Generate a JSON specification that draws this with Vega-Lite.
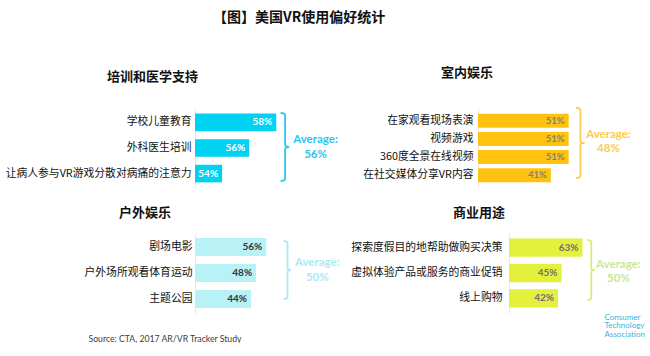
{
  "$schema": "https://vega.github.io/schema/vega-lite/v6.json",
  "padding": {"left": 5, "top": 11, "right": 0, "bottom": 0},
  "background": "white",
  "title": {"text": "【图】美国VR使用偏好统计", "font": "Noto Sans CJK SC", "fontSize": 14, "fontWeight": "bold", "color": "#111111", "anchor": "start", "dx": 18, "offset": 42},
  "config": {
    "view": {"stroke": null},
    "title": {"font": "Noto Sans CJK SC", "fontSize": 13, "fontWeight": "bold", "color": "#111111", "anchor": "start", "frame": "group"},
    "axisY": {"title": null, "ticks": false, "domain": true, "domainColor": "#e8e8e8", "grid": false, "labelFont": "Noto Sans CJK SC", "labelFontSize": 10.8, "labelColor": "#111111", "labelLimit": 0}
  },
  "datasets": {
    "tl": [
      {"item": "学校儿童教育", "pct": 0.58},
      {"item": "外科医生培训", "pct": 0.56, "avg": "Average:\n56%"},
      {"item": "让病人参与VR游戏分散对病痛的注意力", "pct": 0.54}
    ],
    "tr": [
      {"item": "在家观看现场表演", "pct": 0.51},
      {"item": "视频游戏", "pct": 0.51, "avg": "Average:\n48%"},
      {"item": "360度全景在线视频", "pct": 0.51},
      {"item": "在社交媒体分享VR内容", "pct": 0.41}
    ],
    "bl": [
      {"item": "剧场电影", "pct": 0.56},
      {"item": "户外场所观看体育运动", "pct": 0.48, "avg": "Average:\n50%"},
      {"item": "主题公园", "pct": 0.44}
    ],
    "br": [
      {"item": "探索度假目的地帮助做购买决策", "pct": 0.63},
      {"item": "虚拟体验产品或服务的商业促销", "pct": 0.45, "avg": "Average:\n50%"},
      {"item": "线上购物", "pct": 0.42}
    ]
  },
  "spacing": 19,
  "vconcat": [
    {
      "spacing": 18,
      "hconcat": [
        {
          "width": 149, "height": 80,
          "data": {"name": "tl"},
          "title": {"text": "培训和医学支持", "dx": -88, "offset": 24},
          "encoding": {
            "y": {"field": "item", "type": "nominal", "sort": null, "scale": {"paddingInner": 0.31, "paddingOuter": 0.22}, "axis": {"labelPadding": 4, "minExtent": 188, "maxExtent": 188}}
          },
          "layer": [
            {"mark": {"type": "bar", "color": "#00D2F2"},
             "encoding": {"x": {"field": "pct", "type": "quantitative", "scale": {"domain": [0.52, 0.623], "zero": false, "clamp": true}, "axis": null}}},
            {"mark": {"type": "text", "align": "right", "baseline": "middle", "dx": -4, "color": "#ffffff", "font": "Lato", "fontWeight": "bold", "fontSize": 10},
             "encoding": {"x": {"field": "pct", "type": "quantitative", "axis": null}, "text": {"field": "pct", "type": "quantitative", "format": ".0%"}}},
            {"transform": [{"filter": "isValid(datum.avg)"}],
             "mark": {"type": "point", "shape": "M-0.13,-1 Q0,-1 0,-0.93 L0,-0.07 Q0,0 0.12,0 Q0,0 0,0.07 L0,0.93 Q0,1 -0.13,1", "filled": false, "stroke": "#29C6EE", "strokeWidth": 1.8, "opacity": 1, "size": 4624, "yOffset": -1},
             "encoding": {"x": {"datum": 0.5865, "type": "quantitative", "axis": null}}},
            {"transform": [{"filter": "isValid(datum.avg)"}],
             "mark": {"type": "text", "align": "center", "baseline": "middle", "lineBreak": "\n", "lineHeight": 15, "color": "#29C6EE", "font": "Lato", "fontWeight": "bold", "fontSize": 11.5, "yOffset": -8.5},
             "encoding": {"x": {"datum": 0.609, "type": "quantitative", "axis": null}, "text": {"field": "avg"}}}
          ]
        },
        {
          "width": 160, "height": 80,
          "data": {"name": "tr"},
          "title": {"text": "室内娱乐", "dx": -37, "offset": 24},
          "encoding": {
            "y": {"field": "item", "type": "nominal", "sort": null, "scale": {"paddingInner": 0.23, "paddingOuter": 0.313}, "axis": {"labelPadding": 5, "minExtent": 115, "maxExtent": 115}}
          },
          "layer": [
            {"mark": {"type": "bar", "color": "#FFC210"},
             "encoding": {"x": {"field": "pct", "type": "quantitative", "scale": {"domain": [0, 0.87]}, "axis": null}}},
            {"mark": {"type": "text", "align": "right", "baseline": "middle", "dx": -4, "color": "#808080", "font": "Lato", "fontWeight": "bold", "fontSize": 9.5},
             "encoding": {"x": {"field": "pct", "type": "quantitative", "axis": null}, "text": {"field": "pct", "type": "quantitative", "format": ".0%"}}},
            {"transform": [{"filter": "isValid(datum.avg)"}],
             "mark": {"type": "point", "shape": "M-0.13,-1 Q0,-1 0,-0.93 L0,-0.07 Q0,0 0.12,0 Q0,0 0,0.07 L0,0.93 Q0,1 -0.13,1", "filled": false, "stroke": "#FDCB4E", "strokeWidth": 1.8, "opacity": 1, "size": 4900, "yOffset": 4},
             "encoding": {"x": {"datum": 0.576, "type": "quantitative", "axis": null}}},
            {"transform": [{"filter": "isValid(datum.avg)"}],
             "mark": {"type": "text", "align": "center", "baseline": "middle", "lineBreak": "\n", "lineHeight": 14, "color": "#FDCB4E", "font": "Lato", "fontWeight": "bold", "fontSize": 11.5, "yOffset": -4},
             "encoding": {"x": {"datum": 0.734, "type": "quantitative", "axis": null}, "text": {"field": "avg"}}}
          ]
        }
      ]
    },
    {
      "spacing": 10,
      "hconcat": [
        {
          "width": 140, "height": 80,
          "data": {"name": "bl"},
          "title": {"text": "户外娱乐", "dx": -76, "offset": 13},
          "encoding": {
            "y": {"field": "item", "type": "nominal", "sort": null, "scale": {"paddingInner": 0.31, "paddingOuter": 0.19}, "axis": {"labelPadding": 3, "minExtent": 188, "maxExtent": 188}}
          },
          "layer": [
            {"mark": {"type": "bar", "color": "#B8F1F6"},
             "encoding": {"x": {"field": "pct", "type": "quantitative", "scale": {"domain": [0, 1.06]}, "axis": {"title": "Source: CTA, 2017 AR/VR Tracker Study", "labels": false, "ticks": false, "domain": false, "grid": false, "titleX": -107, "titleY": 25, "titleAlign": "left", "titleAnchor": "start", "titleBaseline": "middle", "titleFont": "Lato", "titleFontSize": 8.7, "titleFontWeight": "normal", "titleColor": "#404040"}}}},
            {"mark": {"type": "text", "align": "right", "baseline": "middle", "dx": -4, "color": "#333333", "font": "Lato", "fontWeight": "bold", "fontSize": 10},
             "encoding": {"x": {"field": "pct", "type": "quantitative"}, "text": {"field": "pct", "type": "quantitative", "format": ".0%"}}},
            {"transform": [{"filter": "isValid(datum.avg)"}],
             "mark": {"type": "point", "shape": "M-0.13,-1 Q0,-1 0,-0.93 L0,-0.07 Q0,0 0.12,0 Q0,0 0,0.07 L0,0.93 Q0,1 -0.13,1", "filled": false, "stroke": "#A9EBF3", "strokeWidth": 1.8, "opacity": 1, "size": 3364, "yOffset": -3},
             "encoding": {"x": {"datum": 0.727, "type": "quantitative"}}},
            {"transform": [{"filter": "isValid(datum.avg)"}],
             "mark": {"type": "text", "align": "center", "baseline": "middle", "lineBreak": "\n", "lineHeight": 15, "color": "#A9EBF3", "font": "Lato", "fontWeight": "bold", "fontSize": 11.5, "yOffset": -10},
             "encoding": {"x": {"datum": 0.961, "type": "quantitative"}, "text": {"field": "avg"}}}
          ]
        },
        {
          "width": 140, "height": 80,
          "data": {"name": "br"},
          "title": {"text": "商业用途", "dx": -56, "offset": 13},
          "encoding": {
            "y": {"field": "item", "type": "nominal", "sort": null, "scale": {"paddingInner": 0.28, "paddingOuter": 0.215}, "axis": {"labelPadding": 7, "minExtent": 158, "maxExtent": 158}}
          },
          "layer": [
            {"mark": {"type": "bar", "color": "#E3F03C"},
             "encoding": {"x": {"field": "pct", "type": "quantitative", "scale": {"domain": [0, 1.152]}, "axis": {"title": ["Consumer", "Technology", "Association"], "labels": false, "ticks": false, "domain": false, "grid": false, "titleX": 95, "titleY": 0, "titleAlign": "left", "titleAnchor": "start", "titleBaseline": "top", "titleFont": "Lato", "titleFontSize": 8, "titleLineHeight": 8.6, "titleFontWeight": "normal", "titleColor": "#3BB3DE"}}}},
            {"mark": {"type": "text", "align": "right", "baseline": "middle", "dx": -4, "color": "#707070", "font": "Lato", "fontWeight": "bold", "fontSize": 10},
             "encoding": {"x": {"field": "pct", "type": "quantitative"}, "text": {"field": "pct", "type": "quantitative", "format": ".0%"}}},
            {"transform": [{"filter": "isValid(datum.avg)"}],
             "mark": {"type": "point", "shape": "M-0.13,-1 Q0,-1 0,-0.93 L0,-0.07 Q0,0 0.12,0 Q0,0 0,0.07 L0,0.93 Q0,1 -0.13,1", "filled": false, "stroke": "#D8EC78", "strokeWidth": 1.8, "opacity": 1, "size": 3600, "yOffset": -3},
             "encoding": {"x": {"datum": 0.705, "type": "quantitative"}}},
            {"transform": [{"filter": "isValid(datum.avg)"}],
             "mark": {"type": "text", "align": "center", "baseline": "middle", "lineBreak": "\n", "lineHeight": 14, "color": "#C8E796", "font": "Lato", "fontWeight": "bold", "fontSize": 11.5, "yOffset": -8},
             "encoding": {"x": {"datum": 0.938, "type": "quantitative"}, "text": {"field": "avg"}}}
          ]
        }
      ]
    }
  ]
}
